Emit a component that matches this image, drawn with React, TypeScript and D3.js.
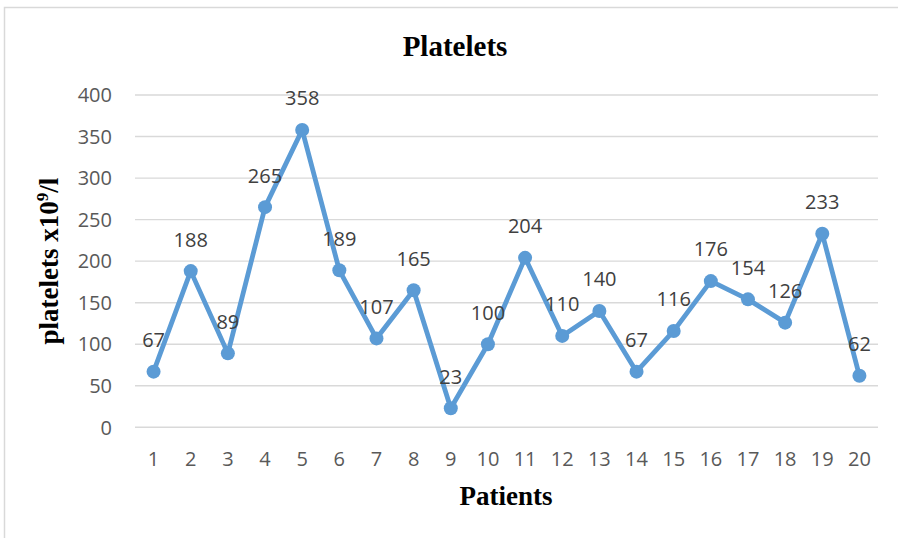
import React from "react";
import * as d3 from "d3";

const patients: string[] = ["1","2","3","4","5","6","7","8","9","10","11","12","13","14","15","16","17","18","19","20"];
const platelets: number[] = [67,188,89,265,358,189,107,165,23,100,204,110,140,67,116,176,154,126,233,62];
const yTicks: number[] = [0,50,100,150,200,250,300,350,400];

const W = 898;
const H = 538;
const plot = { left: 135, right: 878, top: 95, bottom: 427.3 };

export default function App() {
  const x = d3.scalePoint<string>().domain(patients).range([plot.left, plot.right]).padding(0.5);
  const y = d3.scaleLinear().domain([0, 400]).range([plot.bottom, plot.top]);
  const line = d3.line<number>().x((_, i) => x(patients[i]) as number).y((d) => y(d));
  const tickFont = "'Open Sans', 'Noto Sans', sans-serif";
  const serif = "'Liberation Serif', 'Times New Roman', serif";
  const blue = "#5B9BD5";
  return (
    <div style={{ position: "fixed", left: 0, top: 0 }}>
      <svg width={W} height={H} style={{ display: "block", background: "#fff" }}>
        <rect x={4.5} y={7.5} width={W + 10} height={H + 10} fill="#fff" stroke="#d9d9d9" strokeWidth={1.5} />
        <text x={455} y={55.7} textAnchor="middle" fontFamily={serif} fontWeight="bold" fontSize={29} fill="#000">Platelets</text>
        {yTicks.map((t) => (
          <g key={t}>
            <line x1={plot.left} x2={plot.right} y1={y(t)} y2={y(t)} stroke="#d9d9d9" strokeWidth={1.4} />
            <text x={112} y={y(t)} dy="0.36em" textAnchor="end" fontFamily={tickFont} fontSize={20} fill="#595959">{t}</text>
          </g>
        ))}
        {patients.map((p) => (
          <text key={p} x={x(p)} y={466} textAnchor="middle" fontFamily={tickFont} fontSize={20} fill="#595959">{p}</text>
        ))}
        <path d={line(platelets) || ""} fill="none" stroke={blue} strokeWidth={4.8} strokeLinejoin="round" />
        {platelets.map((v, i) => (
          <circle key={i} cx={x(patients[i])} cy={y(v)} r={7} fill={blue} />
        ))}
        {platelets.map((v, i) => (
          <text key={"l" + i} x={x(patients[i])} y={y(v) - 24.6} textAnchor="middle" fontFamily={tickFont} fontSize={20} fill="#404040">{v}</text>
        ))}
        <text transform={`translate(58.4, ${(plot.top + plot.bottom) / 2}) rotate(-90)`} textAnchor="middle" fontFamily={serif} fontWeight="bold" fontSize={27} fill="#000">
          platelets x10<tspan fontSize={17} dy={-10}>9</tspan><tspan dy={10}>/l</tspan>
        </text>
        <text x={506} y={505} textAnchor="middle" fontFamily={serif} fontWeight="bold" fontSize={27} fill="#000">Patients</text>
      </svg>
    </div>
  );
}
